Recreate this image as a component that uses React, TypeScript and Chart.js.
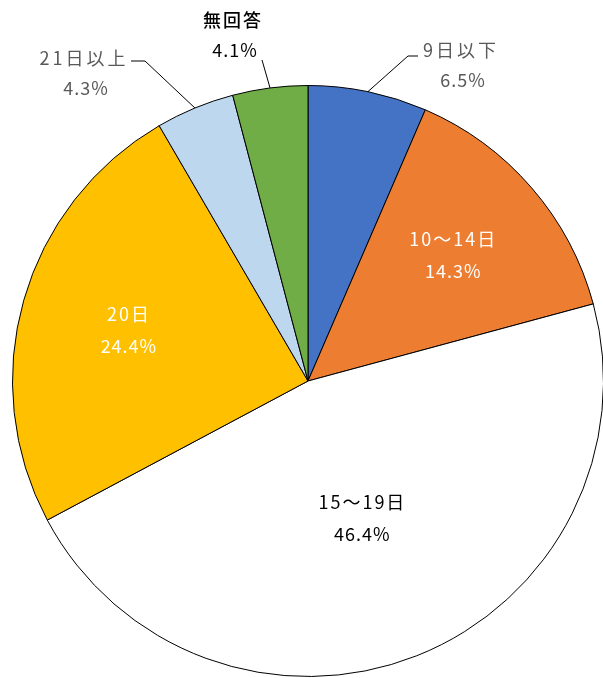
import React, { useEffect, useRef } from "react";
import { Chart, registerables } from "chart.js";

Chart.register(...registerables);

const categories = ["9日以下", "10〜14日", "15〜19日", "20日", "21日以上", "無回答"];
const values = [6.5, 14.3, 46.4, 24.4, 4.3, 4.1];
const percentLabels = ["6.5%", "14.3%", "46.4%", "24.4%", "4.3%", "4.1%"];
const colors = ["#4472C4", "#ED7D31", "#FFFFFF", "#FFC000", "#BDD7EE", "#70AD47"];

type LabelCfg =
  | { kind: "in"; f: number; color: string }
  | { kind: "out"; tx: number; ty: number; ex: number; ey: number; hx: number; color1: string; color2: string; sp: string; bold?: boolean };

const labelCfg: LabelCfg[] = [
  { kind: "out", tx: 461, ty: 50, ex: 408, ey: 56, hx: 418, color1: "#595959", color2: "#595959", sp: "3px" },
  { kind: "in", f: 0.65, color: "#FFFFFF" },
  { kind: "in", f: 0.5, color: "#000000" },
  { kind: "in", f: 0.63, color: "#FFFFFF" },
  { kind: "out", tx: 84, ty: 58, ex: 145, ey: 61, hx: 131, color1: "#595959", color2: "#595959", sp: "3px" },
  { kind: "out", tx: 233, ty: 20, ex: 262, ey: 60, hx: 262, color1: "#000000", color2: "#000000", sp: "2px", bold: true },
];

const FAMILY = '"Noto Sans CJK JP", "Noto Sans", sans-serif';

const labelPlugin = {
  id: "pieLabels",
  afterDatasetsDraw(chart: any) {
    const ctx = chart.ctx as CanvasRenderingContext2D;
    const meta = chart.getDatasetMeta(0);
    ctx.save();
    ctx.textAlign = "center";
    ctx.textBaseline = "middle";
    meta.data.forEach((arc: any, i: number) => {
      const { x, y, startAngle, endAngle, outerRadius } = arc.getProps(
        ["x", "y", "startAngle", "endAngle", "outerRadius"],
        true
      );
      const mid = (startAngle + endAngle) / 2;
      const cfg = labelCfg[i];
      ctx.font = `18px ${FAMILY}`;
      if (cfg.kind === "in") {
        const px = x + Math.cos(mid) * outerRadius * cfg.f;
        const py = y + Math.sin(mid) * outerRadius * cfg.f;
        ctx.fillStyle = cfg.color;
        (ctx as any).letterSpacing = "2px";
        ctx.fillText(categories[i], px, py - 16);
        (ctx as any).letterSpacing = "1px";
        ctx.fillText(percentLabels[i], px, py + 16);
      } else {
        const ax = x + Math.cos(mid) * outerRadius;
        const ay = y + Math.sin(mid) * outerRadius;
        ctx.strokeStyle = "#000000";
        ctx.lineWidth = 1;
        ctx.beginPath();
        ctx.moveTo(ax, ay);
        ctx.lineTo(cfg.ex, cfg.ey);
        ctx.lineTo(cfg.hx, cfg.ey);
        ctx.stroke();
        ctx.font = `${cfg.bold ? "500 " : ""}18px ${FAMILY}`;
        ctx.fillStyle = cfg.color1;
        (ctx as any).letterSpacing = cfg.sp;
        ctx.fillText(categories[i], cfg.tx, cfg.ty);
        ctx.font = `18px ${FAMILY}`;
        ctx.fillStyle = cfg.color2;
        (ctx as any).letterSpacing = "1px";
        ctx.fillText(percentLabels[i], cfg.tx + 2, cfg.ty + 30);
      }
    });
    ctx.restore();
  },
};

export default function App() {
  const ref = useRef<HTMLCanvasElement>(null);
  useEffect(() => {
    document.body.style.overflow = "hidden";
    const chart = new Chart(ref.current!, {
      type: "pie",
      data: {
        labels: categories,
        datasets: [
          {
            data: values,
            backgroundColor: colors,
            borderColor: "#000000",
            borderWidth: 1,
          },
        ],
      },
      options: {
        animation: false,
        responsive: false,
        maintainAspectRatio: false,
        layout: { padding: { left: 12, right: 12, top: 85, bottom: 1 } },
        plugins: {
          legend: { display: false },
          tooltip: { enabled: false },
        },
      },
      plugins: [labelPlugin],
    });
    return () => chart.destroy();
  }, []);
  return (
    <div style={{ position: "fixed", left: 0, top: 0, width: 603, height: 678, overflow: "hidden", background: "#fff" }}>
      <canvas ref={ref} width={616} height={678} style={{ display: "block", width: 616, height: 678 }} />
    </div>
  );
}
